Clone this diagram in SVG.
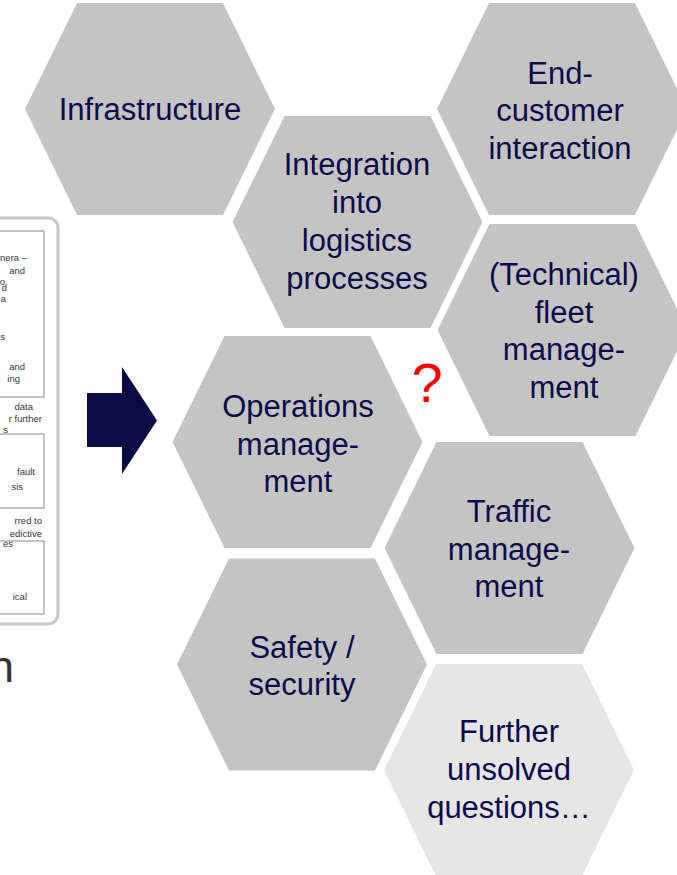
<svg xmlns="http://www.w3.org/2000/svg" xmlns:xlink="http://www.w3.org/1999/xlink" width="677" height="875" viewBox="0 0 677 875">
<style>
.hex{fill:#c4c4c4}
.hex-light{fill:#e6e6e6}
.lbl{font-family:"Liberation Sans",Arial,sans-serif;font-size:31px;fill:#0c0c4a;text-anchor:middle}
.small{font-family:"Liberation Sans",Arial,sans-serif;font-size:9.5px;fill:#333;text-anchor:end}
.inner{fill:none;stroke:#8a8a8a;stroke-width:1}
</style>
<defs>
<polygon id="hexshape" points="-125,0 -73,-106 73,-106 125,0 73,106 -73,106"/>
</defs>
<rect width="677" height="875" fill="#ffffff"/>

<g id="left-panel">
<rect x="-20" y="218" width="78" height="406" rx="10" fill="#ffffff" stroke="#c8c8c8" stroke-width="3"/>
<rect class="inner" x="-20" y="231" width="64" height="166"/>
<rect class="inner" x="-20" y="434" width="64" height="74"/>
<rect class="inner" x="-20" y="541" width="64" height="73"/>
<text class="small" x="27" y="261">nera –</text>
<text class="small" x="25" y="274">and</text>
<text class="small" x="5" y="285">o</text>
<text class="small" x="7" y="291">d</text>
<text class="small" x="6" y="302">a</text>
<text class="small" x="5" y="340">s</text>
<text class="small" x="25" y="370">and</text>
<text class="small" x="20" y="382">ing</text>
<text class="small" x="33" y="410">data</text>
<text class="small" x="42" y="422">r further</text>
<text class="small" x="8" y="433">s</text>
<text class="small" x="35" y="475">fault</text>
<text class="small" x="23" y="490">sis</text>
<text class="small" x="42" y="524">rred to</text>
<text class="small" x="42" y="537">edictive</text>
<text class="small" x="13" y="547">es</text>
<text class="small" x="27" y="600">ical</text>
<text x="-10.6" y="682" font-family="Liberation Sans, Arial, sans-serif" font-size="44" fill="#333333">n</text>
</g>

<g id="connectors">
<polygon id="arrow" points="87,393 122,393 122,367 157,420.5 122,474 122,447 87,447" fill="#0a0a45"/>
</g>

<g id="infrastructure">
<use xlink:href="#hexshape" href="#hexshape" x="150" y="109" class="hex"/>
<text class="lbl" x="150" y="120">Infrastructure</text>
</g>

<g id="end-customer">
<use xlink:href="#hexshape" href="#hexshape" x="562" y="109" class="hex"/>
<text class="lbl" x="560" y="83.5">End-</text>
<text class="lbl" x="560" y="121">customer</text>
<text class="lbl" x="560" y="158.5">interaction</text>
</g>

<g id="integration">
<use xlink:href="#hexshape" href="#hexshape" x="357.5" y="222" class="hex"/>
<text class="lbl" x="357" y="175">Integration</text>
<text class="lbl" x="357" y="213">into</text>
<text class="lbl" x="357" y="251">logistics</text>
<text class="lbl" x="357" y="289">processes</text>
</g>

<g id="fleet">
<use xlink:href="#hexshape" href="#hexshape" x="562.5" y="330" class="hex"/>
<text class="lbl" x="564" y="285">(Technical)</text>
<text class="lbl" x="564" y="322.5">fleet</text>
<text class="lbl" x="564" y="360">manage-</text>
<text class="lbl" x="564" y="398">ment</text>
</g>

<g id="operations">
<use xlink:href="#hexshape" href="#hexshape" x="297.5" y="442" class="hex"/>
<text class="lbl" x="298" y="417">Operations</text>
<text class="lbl" x="298" y="454.5">manage-</text>
<text class="lbl" x="298" y="492">ment</text>
</g>

<g id="question">
<text x="427" y="402" font-family="Liberation Sans, Arial, sans-serif" font-size="56" fill="#ff0000" text-anchor="middle">?</text>
</g>

<g id="traffic">
<use xlink:href="#hexshape" href="#hexshape" x="509.5" y="548" class="hex"/>
<text class="lbl" x="509" y="522">Traffic</text>
<text class="lbl" x="509" y="560">manage-</text>
<text class="lbl" x="509" y="597">ment</text>
</g>

<g id="safety">
<use xlink:href="#hexshape" href="#hexshape" x="302" y="664.5" class="hex"/>
<text class="lbl" x="302" y="658">Safety /</text>
<text class="lbl" x="302" y="695">security</text>
</g>

<g id="further">
<use xlink:href="#hexshape" href="#hexshape" x="509" y="770" class="hex-light"/>
<text class="lbl" x="509" y="742">Further</text>
<text class="lbl" x="509" y="780">unsolved</text>
<text class="lbl" x="509" y="818">questions…</text>
</g>
</svg>
